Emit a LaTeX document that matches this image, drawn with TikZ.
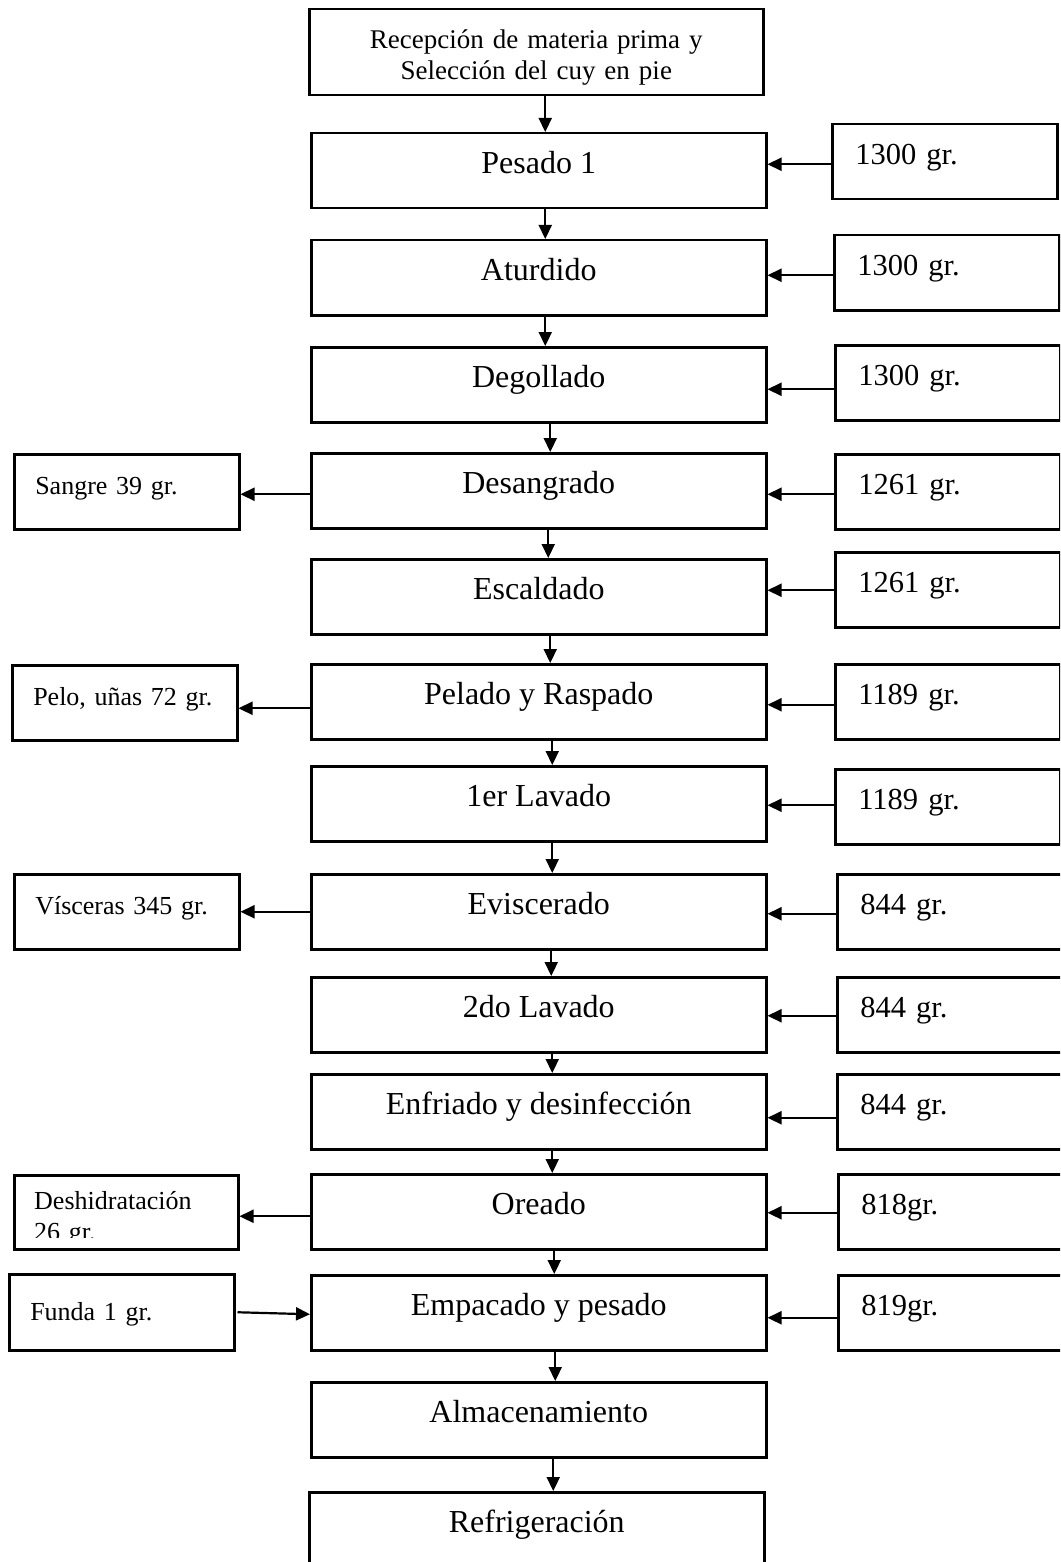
\documentclass[tikz,border=0pt]{standalone}
\usepackage{fontspec}
\setmainfont{Liberation Serif}
\usetikzlibrary{arrows.meta}
\tikzset{
  boxbase/.style={draw, line width=2.5pt, inner ysep=0pt, anchor=north west},
  mainbox/.style={boxbase, minimum width=455pt, minimum height=75pt, inner xsep=0pt,
    font=\fontsize{32}{38}\selectfont, text height=22pt, text depth=17pt},
  rightbox/.style={boxbase, minimum width=225pt, minimum height=75pt, text width=179pt, inner xsep=23pt,
    font=\fontsize{30.5}{36}\selectfont, text height=21pt, text depth=16pt},
  leftbox/.style={boxbase, minimum width=225pt, minimum height=75pt, text width=183pt, inner xsep=21pt,
    font=\fontsize{26}{31}\selectfont, text height=18pt, text depth=13pt},
  arr/.style={line width=2.2pt, -{Triangle[length=14pt,width=13pt]}}
}
\begin{document}
\begin{tikzpicture}[x=1pt,y=-1pt]
\useasboundingbox (0,0) rectangle (1060,1562);
\fill[white] (0,0) rectangle (1060,1562);
\clip (0,0) rectangle (1060,1562);
% main column
\node[boxbase, minimum width=454pt, minimum height=86pt, text width=454pt, inner xsep=0pt,
  font=\fontsize{27}{31}\selectfont, text height=25pt, text depth=32pt] (rec) at (308,8)
  {\centering Recepción de materia prima y\\Selección del cuy en pie\par};
\node[mainbox] (pes) at (310,132) {Pesado 1};
\node[mainbox] (atu) at (310,239) {Aturdido};
\node[mainbox] (deg) at (310,346) {Degollado};
\node[mainbox] (desa) at (310,452) {Desangrado};
\node[mainbox] (esc) at (310,558) {Escaldado};
\node[mainbox] (pel) at (310,663) {Pelado y Raspado};
\node[mainbox] (lavA) at (310,765) {1er Lavado};
\node[mainbox] (evi) at (310,873) {Eviscerado};
\node[mainbox] (lavB) at (310,976) {2do Lavado};
\node[mainbox] (enf) at (310,1073) {Enfriado y desinfección};
\node[mainbox] (ore) at (310,1173) {Oreado};
\node[mainbox] (emp) at (310,1274) {Empacado y pesado};
\node[mainbox] (alm) at (310,1381) {Almacenamiento};
\node[mainbox] (ref) at (308,1491) {Refrigeración};
% right boxes
\node[rightbox] (r1) at (831,123) {1300 gr.};
\node[rightbox] (r2) at (833,234) {1300 gr.};
\node[rightbox] (r3) at (834,344) {1300 gr.};
\node[rightbox] (r4) at (834,453) {1261 gr.};
\node[rightbox] (r5) at (834,551) {1261 gr.};
\node[rightbox] (r6) at (834,663) {1189 gr.};
\node[rightbox] (r7) at (834,768) {1189 gr.};
\node[rightbox] (r8) at (836,873) {844 gr.};
\node[rightbox] (r9) at (836,976) {844 gr.};
\node[rightbox] (r10) at (836,1073) {844 gr.};
\node[rightbox] (r11) at (837,1173) {818gr.};
\node[rightbox] (r12) at (837,1274) {819gr.};
% left boxes
\node[leftbox] (l1) at (13,453) {Sangre 39 gr.};
\node[leftbox] (l2) at (11,664) {Pelo, uñas 72 gr.};
\node[leftbox] (l3) at (13,873) {Vísceras 345 gr.};
\node[boxbase, minimum width=224pt, minimum height=74pt] (l4) at (13,1174) {};
\begin{scope}
  \clip (13,1174) rectangle (237,1237);
  \node[anchor=base west, inner sep=0pt, text width=195pt, font=\fontsize{26}{31}\selectfont] (l4t) at (34,1209) {\raggedright Deshidratación\\26 gr.\par};
\end{scope}
\node[leftbox, text height=18pt, text depth=1pt, minimum height=76pt] (l5) at (8,1273) {Funda 1 gr.};
% vertical arrows
\draw[arr] ([xshift=9pt]rec.south) -- ([xshift=9pt]rec.south |- pes.north);
\draw[arr] ([xshift=6.5pt]pes.south) -- ([xshift=6.5pt]atu.north);
\draw[arr] ([xshift=6.5pt]atu.south) -- ([xshift=6.5pt]deg.north);
\draw[arr] ([xshift=11.5pt]deg.south) -- ([xshift=11.5pt]desa.north);
\draw[arr] ([xshift=9.5pt]desa.south) -- ([xshift=9.5pt]esc.north);
\draw[arr] ([xshift=11.5pt]esc.south) -- ([xshift=11.5pt]pel.north);
\draw[arr] ([xshift=13.5pt]pel.south) -- ([xshift=13.5pt]lavA.north);
\draw[arr] ([xshift=13.5pt]lavA.south) -- ([xshift=13.5pt]evi.north);
\draw[arr] ([xshift=12.5pt]evi.south) -- ([xshift=12.5pt]lavB.north);
\draw[arr] ([xshift=13.5pt]lavB.south) -- ([xshift=13.5pt]enf.north);
\draw[arr] ([xshift=13.5pt]enf.south) -- ([xshift=13.5pt]ore.north);
\draw[arr] ([xshift=15.5pt]ore.south) -- ([xshift=15.5pt]emp.north);
\draw[arr] ([xshift=16.5pt]emp.south) -- ([xshift=16.5pt]alm.north);
\draw[arr] ([xshift=14.5pt]alm.south) -- ([xshift=14.5pt]alm.south |- ref.north);
% right arrows
\draw[arr] ([yshift=-2.5pt]r1.west) -- ([yshift=-2.5pt]r1.west -| pes.east);
\draw[arr] ([yshift=-2.5pt]r2.west) -- ([yshift=-2.5pt]r2.west -| atu.east);
\draw[arr] ([yshift=-6.5pt]r3.west) -- ([yshift=-6.5pt]r3.west -| deg.east);
\draw[arr] ([yshift=-2.5pt]r4.west) -- ([yshift=-2.5pt]r4.west -| desa.east);
\draw[arr] ([yshift=-0.5pt]r5.west) -- ([yshift=-0.5pt]r5.west -| esc.east);
\draw[arr] ([yshift=-3pt]r6.west) -- ([yshift=-3pt]r6.west -| pel.east);
\draw[arr] ([yshift=1.5pt]r7.west) -- ([yshift=1.5pt]r7.west -| lavA.east);
\draw[arr] ([yshift=-2pt]r8.west) -- ([yshift=-2pt]r8.west -| evi.east);
\draw[arr] ([yshift=-1pt]r9.west) -- ([yshift=-1pt]r9.west -| lavB.east);
\draw[arr] ([yshift=-6pt]r10.west) -- ([yshift=-6pt]r10.west -| enf.east);
\draw[arr] ([yshift=-1pt]r11.west) -- ([yshift=-1pt]r11.west -| ore.east);
\draw[arr] ([yshift=-5pt]r12.west) -- ([yshift=-5pt]r12.west -| emp.east);
% left arrows
\draw[arr] ([yshift=-3.5pt]desa.west) -- ([yshift=-3.5pt]desa.west -| l1.east);
\draw[arr] ([yshift=-6.5pt]pel.west) -- ([yshift=-6.5pt]pel.west -| l2.east);
\draw[arr] (evi.west) -- (evi.west -| l3.east);
\draw[arr] ([yshift=-4.5pt]ore.west) -- ([yshift=-4.5pt]ore.west -| l4.east);
\draw[arr] ([xshift=2pt]l5.east) -- ([yshift=-1.5pt]emp.west);
\end{tikzpicture}
\end{document}
